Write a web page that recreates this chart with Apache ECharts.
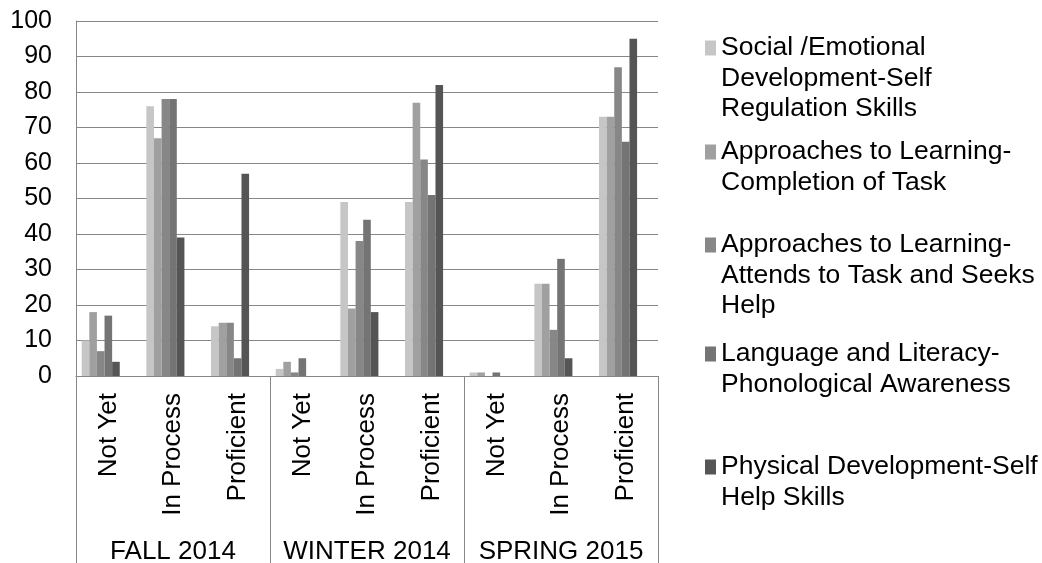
<!DOCTYPE html>
<html>
<head>
<meta charset="utf-8">
<script src="https://cdn.jsdelivr.net/npm/echarts@6/dist/echarts.min.js"></script>
<style>
  html, body { margin: 0; padding: 0; background: #fff; }
  #main { width: 1042px; height: 563px; }
</style>
</head>
<body>
<div id="main"></div>
<script>
// groups along the bottom and the levels inside each
const groups = ['FALL 2014', 'WINTER 2014', 'SPRING 2015']
const levels = ['Not Yet', 'In Process', 'Proficient']

const seriesNames = [
  'Social /Emotional Development-Self Regulation Skills',
  'Approaches to Learning-Completion of Task',
  'Approaches to Learning-Attends to Task and Seeks Help',
  'Language and Literacy-Phonological Awareness',
  'Physical Development-Self Help Skills'
]
// how the legend wraps them
const legendLabels = [
  'Social /Emotional\nDevelopment-Self\nRegulation Skills',
  'Approaches to Learning-\nCompletion of Task',
  'Approaches to Learning-\nAttends to Task and Seeks\nHelp',
  'Language and Literacy-\nPhonological Awareness',
  'Physical Development-Self\nHelp Skills'
]

// values, in order Fall (NY, IP, P), Winter (...), Spring (...)
const selfRegulation = [10, 76, 14, 2, 49, 49, 1, 26, 73]
const completionOfTask = [18, 67, 15, 4, 19, 77, 1, 26, 73]
const attendsToTask = [7, 78, 15, 1, 38, 61, 0, 13, 87]
const phonological = [17, 78, 5, 5, 44, 51, 1, 33, 66]
const selfHelp = [4, 39, 57, 0, 18, 82, 0, 5, 95]

const yMin = 0
const yMax = 100
const yStep = 10

const categories = groups.flatMap(() => levels)
const values = [selfRegulation, completionOfTask, attendsToTask, phonological, selfHelp]
const colors = ['#c6c6c6', '#a0a0a0', '#878787', '#747474', '#555555']
const lineColor = '#878787'
const font = '"Liberation Sans", Arial, sans-serif'

// legend: centre of the first line of each entry
const legendTops = [48, 152, 245, 354, 467]
const lineH = 30.5
const legendFont = 26.5

const chart = echarts.init(document.getElementById('main'))

const series = values.map((data, i) => ({
  name: seriesNames[i],
  type: 'bar',
  data: data,
  barGap: 0,
  barCategoryGap: '17.6%',
  itemStyle: { color: colors[i] }
}))
// Excel kept room for two more (empty) bars in every cluster
series.push({ name: 'pad1', type: 'bar', data: [], silent: true })
series.push({ name: 'pad2', type: 'bar', data: [], silent: true })

// one legend per entry, square drawn inline next to the first line
const legend = seriesNames.map((name, i) => {
  const lines = legendLabels[i].split('\n')
  return {
    data: [name],
    left: 700,
    top: legendTops[i] - lineH / 2,
    padding: 0,
    itemWidth: 0,
    itemHeight: 0,
    itemStyle: { opacity: 0 },
    selectedMode: false,
    formatter: () => lines.map((t, k) => (k === 0 ? '{sq|}{gap|}' : '{ind|}') + t).join('\n'),
    textStyle: {
      fontFamily: font,
      fontSize: legendFont,
      color: '#000',
      lineHeight: lineH,
      rich: {
        sq: { width: 11, height: 11, backgroundColor: colors[i], lineHeight: lineH, verticalAlign: 'middle', padding: [4, 0, 0, 0] },
        gap: { width: 5, lineHeight: lineH },
        ind: { width: 16, lineHeight: lineH }
      }
    }
  }
})

const option = {
  animation: false,
  legend: legend,
  grid: {
    left: 76,
    right: 384,
    top: 21,
    bottom: 187,
    outerBoundsMode: 'none'
  },
  xAxis: [
    {
      type: 'category',
      data: categories,
      axisLine: { lineStyle: { color: lineColor, width: 1 } },
      axisTick: { show: false },
      axisLabel: {
        interval: 0,
        rotate: 90,
        margin: 17,
        fontFamily: font,
        fontSize: 26,
        color: '#000'
      }
    },
    {
      type: 'category',
      data: groups,
      position: 'bottom',
      axisLine: { show: false },
      axisTick: {
        show: true,
        interval: 0,
        length: 187,
        lineStyle: { color: lineColor, width: 1 }
      },
      axisLabel: {
        interval: 0,
        margin: 163,
        fontFamily: font,
        fontSize: 26,
        color: '#000'
      }
    }
  ],
  yAxis: {
    type: 'value',
    min: yMin,
    max: yMax,
    interval: yStep,
    axisLine: { show: true, lineStyle: { color: lineColor, width: 1 } },
    axisTick: { show: false },
    splitLine: { lineStyle: { color: lineColor, width: 1 } },
    axisLabel: {
      margin: 24,
      fontFamily: font,
      fontSize: 25,
      color: '#000'
    }
  },
  series: series
}

chart.setOption(option)
</script>
</body>
</html>
